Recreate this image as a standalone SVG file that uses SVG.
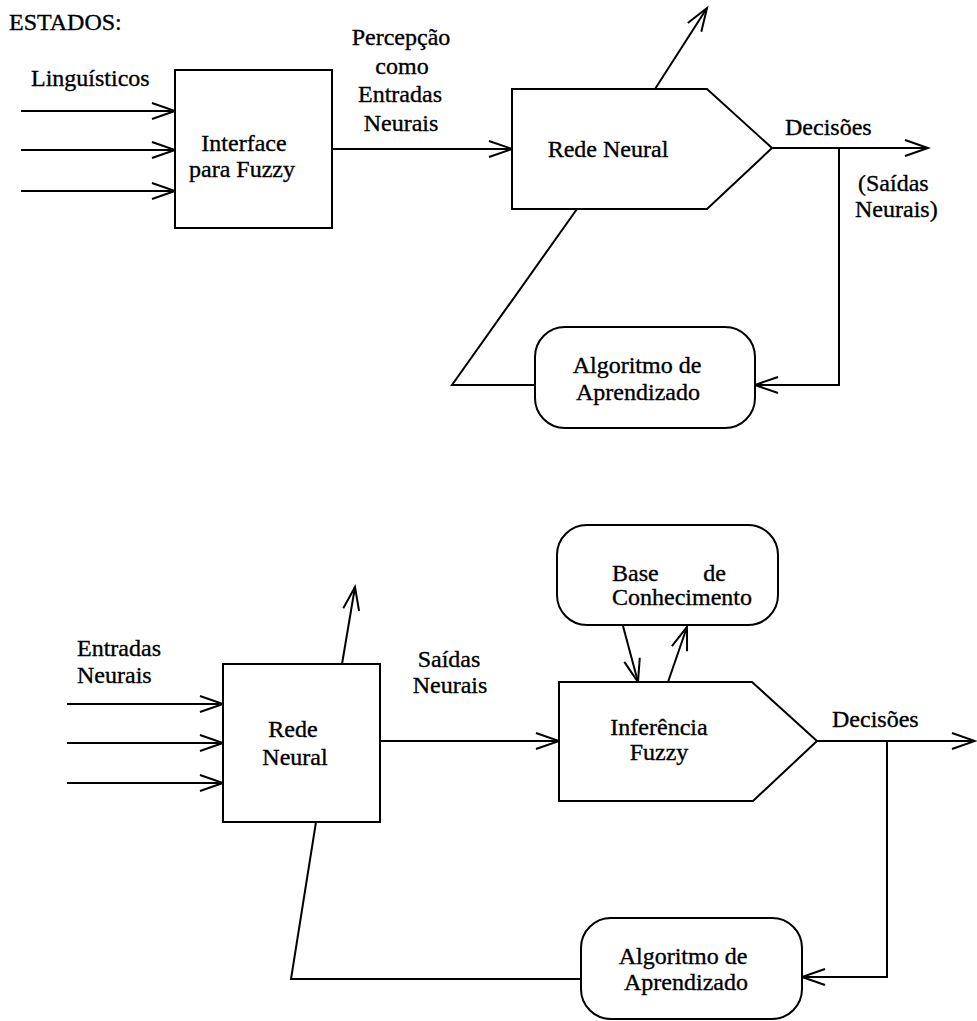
<svg xmlns="http://www.w3.org/2000/svg" width="977" height="1021" viewBox="0 0 977 1021">
  <defs>
    <style>
      .box { fill: #fff; stroke: #000; stroke-width: 2; }
      .ln { fill: none; stroke: #000; stroke-width: 2; }
      text { font-family: "Liberation Serif", "Times New Roman", serif; font-size: 24px; fill: #000; stroke: #000; stroke-width: 0.35px; }
      .c { text-anchor: middle; }
      .e { text-anchor: end; }
    </style>
    <!-- open V arrowhead -->
    <marker id="ah" markerUnits="userSpaceOnUse" viewBox="-26 -12 28 24" markerWidth="28" markerHeight="24" refX="0" refY="0" orient="auto" overflow="visible">
      <path d="M-23,-8 L0,0 L-23,8" fill="none" stroke="#000" stroke-width="2"/>
    </marker>
  </defs>

  <rect width="977" height="1021" fill="#fff"/>

  <!-- ===== Upper scheme ===== -->
  <text x="9" y="30">ESTADOS:</text>
  <text x="31" y="86">Linguísticos</text>
  <text x="401" y="45" class="c">Percepção</text>
  <text x="402" y="74" class="c">como</text>
  <text x="400" y="102" class="c">Entradas</text>
  <text x="401" y="131" class="c">Neurais</text>
  <text x="785" y="135">Decisões</text>
  <text x="858" y="191">(Saídas</text>
  <text x="855" y="217">Neurais)</text>

  <g id="connectors-top">
    <path class="ln" d="M21,111 H175" marker-end="url(#ah)"/>
    <path class="ln" d="M21,150 H175" marker-end="url(#ah)"/>
    <path class="ln" d="M21,191 H175" marker-end="url(#ah)"/>
    <path class="ln" d="M332,149 H512" marker-end="url(#ah)"/>
    <path class="ln" d="M655,89 L707,8" marker-end="url(#ah)"/>
    <path class="ln" d="M772,148 H928" marker-end="url(#ah)"/>
    <path class="ln" d="M839,148 V385 H755" marker-end="url(#ah)"/>
    <path class="ln" d="M577,209 L452,385 H535"/>
  </g>

  <g id="interface-fuzzy">
    <rect class="box" x="175" y="70" width="157" height="158"/>
    <text x="244" y="151" class="c">Interface</text>
    <text x="242" y="177" class="c">para Fuzzy</text>
  </g>

  <g id="rede-neural-top">
    <polygon class="box" points="512,89 707,89 772,148 707,209 512,209"/>
    <text x="608" y="157" class="c">Rede Neural</text>
  </g>

  <g id="algoritmo-top">
    <rect class="box" x="535" y="327" width="220" height="101" rx="30" ry="30"/>
    <text x="637" y="373" class="c">Algoritmo de</text>
    <text x="638" y="400" class="c">Aprendizado</text>
  </g>

  <!-- ===== Lower scheme ===== -->
  <text x="77" y="656">Entradas</text>
  <text x="77" y="683">Neurais</text>
  <text x="449" y="667" class="c">Saídas</text>
  <text x="450" y="693" class="c">Neurais</text>
  <text x="832" y="727">Decisões</text>

  <g id="connectors-bottom">
    <path class="ln" d="M67,704 H223" marker-end="url(#ah)"/>
    <path class="ln" d="M67,743 H223" marker-end="url(#ah)"/>
    <path class="ln" d="M67,783 H223" marker-end="url(#ah)"/>
    <path class="ln" d="M342,664 L355,587" marker-end="url(#ah)"/>
    <path class="ln" d="M380,741 H559" marker-end="url(#ah)"/>
    <path class="ln" d="M623,626 L638,682" marker-end="url(#ah)"/>
    <path class="ln" d="M668,682 L687,627" marker-end="url(#ah)"/>
    <path class="ln" d="M817,741 H975" marker-end="url(#ah)"/>
    <path class="ln" d="M887,741 V977 H802" marker-end="url(#ah)"/>
    <path class="ln" d="M316,822 L291,979 H581"/>
  </g>

  <g id="rede-neural-bottom">
    <rect class="box" x="223" y="664" width="157" height="158"/>
    <text x="293" y="737" class="c">Rede</text>
    <text x="295" y="765" class="c">Neural</text>
  </g>

  <g id="base-conhecimento">
    <rect class="box" x="557" y="525" width="221" height="100" rx="30" ry="30"/>
    <text x="612" y="581">Base</text>
    <text x="726" y="581" class="e">de</text>
    <text x="612" y="605">Conhecimento</text>
  </g>

  <g id="inferencia-fuzzy">
    <polygon class="box" points="559,682 752,682 817,741 753,801 559,801"/>
    <text x="659" y="735" class="c">Inferência</text>
    <text x="659" y="760" class="c">Fuzzy</text>
  </g>

  <g id="algoritmo-bottom">
    <rect class="box" x="581" y="918" width="221" height="101" rx="30" ry="30"/>
    <text x="683" y="964" class="c">Algoritmo de</text>
    <text x="686" y="990" class="c">Aprendizado</text>
  </g>
</svg>
